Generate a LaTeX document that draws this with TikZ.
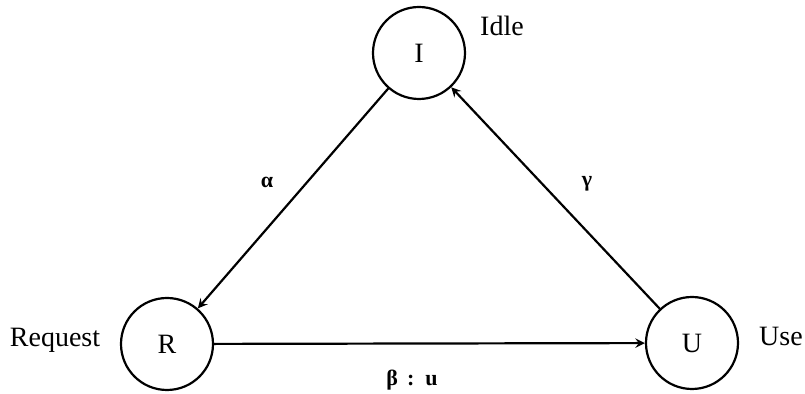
\documentclass[tikz,border=0pt]{standalone}
\usepackage{fontspec}
\setmainfont{Liberation Serif}
\begin{document}
\begin{tikzpicture}[x=0.5pt, y=-0.5pt, font=\fontsize{14}{16}\selectfont, line join=round, line cap=round, >=stealth, line width=1.1pt]
	\tikzset{state/.style={draw, circle, minimum size=46pt, inner sep=0pt},
		lbl/.style={font=\fontsize{11}{13}\selectfont\bfseries}}
	\useasboundingbox (0,0) rectangle (805,394);
	% trạng thái
	\node[state] (I) at (419,53) {I};
	\node[state] (R) at (167,344) {R};
	\node[state] (U) at (692,343) {U};
	\node (idle) at (502,26) {Idle};
	\node (request) at (55,340) {Request};
	\node (use) at (781,336) {Use};
	% chuyển trạng thái
	\draw[->] (I) -- (R);
	\draw[->] (R) -- (U);
	\draw[->] (U) -- (I);
	\node[lbl] (alpha) at (267,182) {α};
	\node[lbl] (gamma) at (587,184) {γ};
	\node[lbl] (beta) at (412,380) {β\, :\, u};
\end{tikzpicture}
\end{document}
